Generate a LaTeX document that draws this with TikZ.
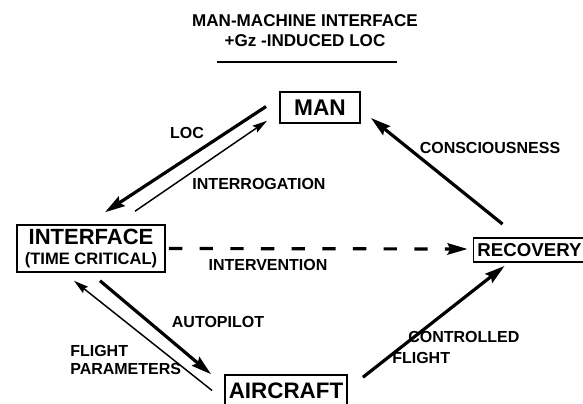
\documentclass[tikz,border=0pt]{standalone}
\usepackage{fontspec}
\setmainfont{Liberation Sans}
\usepackage{tikz}
\usetikzlibrary{arrows.meta}
\usetikzlibrary{positioning}

\tikzset{
  box/.style={draw, line width=1.4pt, inner sep=1pt, align=center},
  lbl/.style={font=\bfseries\fontsize{12}{14}\selectfont, inner sep=0pt},
  bigarrow/.style={line width=2.4pt, -{Stealth[length=15pt,width=8.5pt,inset=2pt]}},
  thinarrow/.style={line width=1.1pt, -{Stealth[length=11pt,width=6pt,inset=1.5pt]}}
}

\begin{document}
\begin{tikzpicture}[x=0.75pt,y=0.75pt,yscale=-1,xscale=1]
\useasboundingbox (0,0) rectangle (583,404);

% Title
\node[font=\bfseries\fontsize{12.8}{15}\selectfont, align=center, inner sep=0pt] (title) at (305,31) {MAN-MACHINE INTERFACE\\+Gz -INDUCED LOC};
\draw[line width=1.1pt] (217,62) -- (397,62);

% Boxes
\node[box, minimum width=60pt, minimum height=23pt, font=\bfseries\fontsize{17}{19}\selectfont] (man) at (320,107.5) {MAN};
\node[box, minimum width=111pt, minimum height=35pt, font=\bfseries\fontsize{16.5}{17}\selectfont] (iface) at (91,248.5) {INTERFACE\\[-2pt]{\fontsize{12.4}{13}\selectfont (TIME CRITICAL)}};
\node[box, minimum width=84pt, minimum height=18pt, font=\bfseries\fontsize{14}{16}\selectfont] (recov) at (529.5,250) {RECOVERY};
\node[box, minimum width=91.5pt, minimum height=23pt, font=\bfseries\fontsize{16.8}{18}\selectfont] (acft) at (286,390.5) {AIRCRAFT};

% Connectors
\draw[bigarrow] ([shift={(-13,-1)}]man.west) -- ([shift={(14,-12)}]iface.north);
\draw[thinarrow] ([shift={(44,-13)}]iface.north) -- ([shift={(-12,-3)}]man.south west);
\draw[bigarrow] ([shift={(30,-13)}]recov.north west) -- ([shift={(10,10.5)}]man.east);
\draw[bigarrow, dash pattern={on 10pt off 13pt}] ([shift={(3,0)}]iface.east) -- ([shift={(-5,-1)}]recov.west);
\draw[bigarrow] ([shift={(15,3)}]acft.north east) -- ([shift={(32,3)}]recov.south west);
\draw[bigarrow] ([shift={(9,8)}]iface.south) -- ([shift={(-13,0)}]acft.north west);
\draw[thinarrow] ([shift={(-12,0)}]acft.west) -- ([shift={(-17,8)}]iface.south);

% Labels
\node[lbl] (loc) at (187,133) {LOC};
\node[lbl] (interr) at (259,184) {INTERROGATION};
\node[lbl] (consc) at (490,148) {CONSCIOUSNESS};
\node[lbl] (interv) at (268,265) {INTERVENTION};
\node[lbl] (autop) at (218,322) {AUTOPILOT};
\node[lbl, anchor=west, align=left] (fparam) at (70,360) {FLIGHT\\PARAMETERS};
\node[lbl, anchor=west] (ctrl) at (408,337) {CONTROLLED};
\node[lbl, anchor=west] (cflight) at (392,358) {FLIGHT};

\end{tikzpicture}
\end{document}
